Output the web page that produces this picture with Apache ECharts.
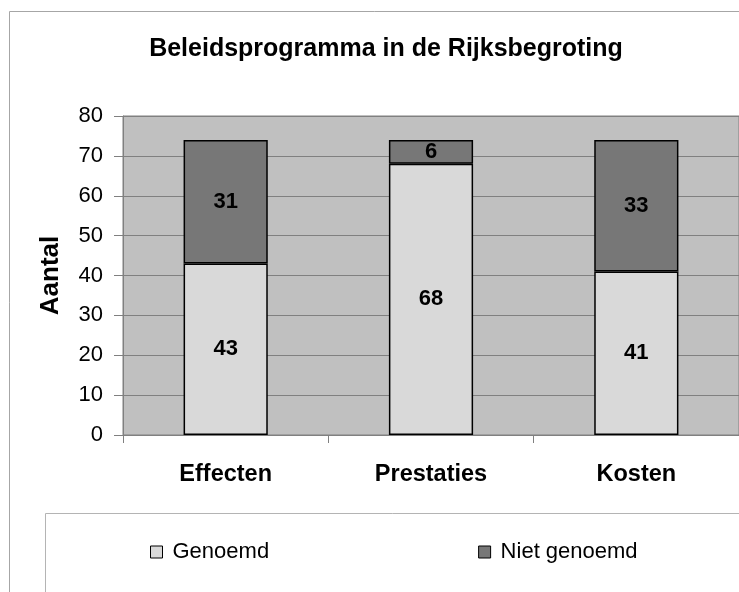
<!DOCTYPE html>
<html>
<head>
<meta charset="utf-8">
<script src="https://cdn.jsdelivr.net/npm/echarts@6/dist/echarts.min.js"></script>
<style>
  html, body { margin: 0; padding: 0; background: #fff; }
  #chart { width: 739px; height: 592px; }
</style>
</head>
<body>
<div id="chart"></div>
<script>
// data
const categories = ['Effecten', 'Prestaties', 'Kosten'];
const genoemd = [43, 68, 41];
const nietGenoemd = [31, 6, 33];
const seriesNames = ['Genoemd', 'Niet genoemd'];

const FONT = '"Liberation Sans", Arial, sans-serif';

const chart = echarts.init(document.getElementById('chart'));

const barLabel = {
    show: true,
    position: 'inside',
    color: '#000',
    fontWeight: 'bold',
    fontSize: 22,
    fontFamily: FONT
};

const option = {
    animation: false,
    backgroundColor: '#fff',
    title: {
        text: 'Beleidsprogramma in de Rijksbegroting',
        left: 381,
        top: 31,
        textAlign: 'center',
        textStyle: {
            fontSize: 25,
            fontWeight: 'bold',
            color: '#000',
            fontFamily: FONT,
            lineHeight: 26
        }
    },
    graphic: [
        // outer frame of the chart
        {
            type: 'rect',
            silent: true,
            z: -1,
            shape: { x: 9.5, y: 11.5, width: 800, height: 700 },
            style: { fill: 'none', stroke: '#a6a6a6', lineWidth: 1 }
        },
        // legend box
        {
            type: 'rect',
            silent: true,
            shape: { x: 45.5, y: 513.5, width: 800, height: 200 },
            style: { fill: 'none', stroke: '#b4b4b4', lineWidth: 1 }
        }
    ],
    legend: {
        data: seriesNames,
        left: 145,
        top: 536,
        icon: 'rect',
        itemWidth: 12,
        itemHeight: 12,
        itemGap: 209,
        itemStyle: { borderColor: '#000', borderWidth: 1 },
        textStyle: {
            fontSize: 22,
            color: '#000',
            fontFamily: FONT,
            padding: [0, 0, 0, 5]
        }
    },
    grid: {
        left: 123,
        top: 116,
        width: 618,
        height: 319,
        show: true,
        backgroundColor: '#c0c0c0',
        borderColor: '#808080',
        borderWidth: 1
    },
    xAxis: {
        type: 'category',
        data: categories,
        axisLine: { lineStyle: { color: '#808080', width: 1 } },
        axisTick: { show: true, length: 8, lineStyle: { color: '#808080' } },
        axisLabel: {
            margin: 28,
            color: '#000',
            fontSize: 23.5,
            fontWeight: 'bold',
            fontFamily: FONT
        }
    },
    yAxis: {
        type: 'value',
        min: 0,
        max: 80,
        interval: 10,
        name: 'Aantal',
        nameLocation: 'middle',
        nameGap: 59,
        nameTextStyle: {
            fontSize: 26,
            fontWeight: 'bold',
            color: '#000',
            fontFamily: FONT
        },
        axisLine: { show: true, lineStyle: { color: '#808080', width: 1 } },
        axisTick: { show: true, length: 9, lineStyle: { color: '#808080' } },
        axisLabel: {
            margin: 20,
            color: '#000',
            fontSize: 22,
            fontFamily: FONT
        },
        splitLine: { lineStyle: { color: '#808080', width: 1 } }
    },
    series: [
        {
            name: seriesNames[0],
            type: 'bar',
            stack: 'total',
            barWidth: '41%',
            data: genoemd,
            itemStyle: { color: '#d9d9d9', borderColor: '#000', borderWidth: 1.5 },
            label: barLabel
        },
        {
            name: seriesNames[1],
            type: 'bar',
            stack: 'total',
            barWidth: '41%',
            data: nietGenoemd,
            itemStyle: { color: '#777777', borderColor: '#000', borderWidth: 1.5 },
            label: barLabel
        }
    ]
};

chart.setOption(option);
</script>
</body>
</html>
